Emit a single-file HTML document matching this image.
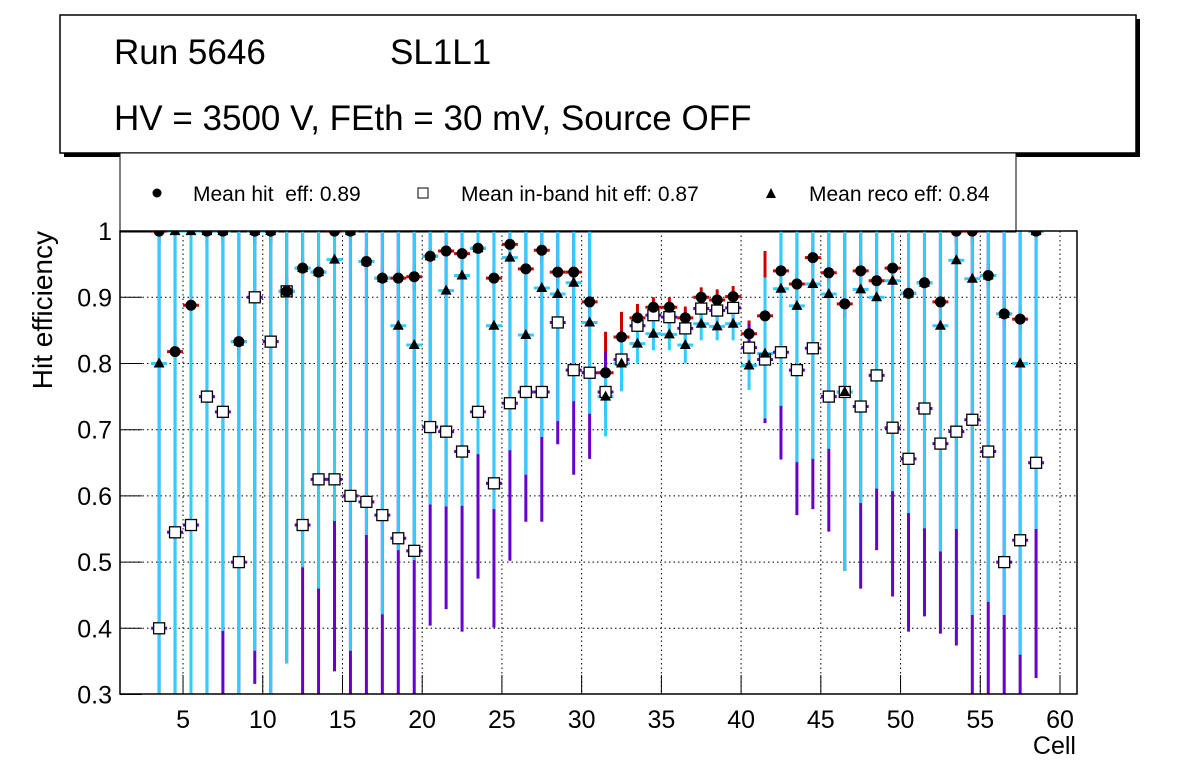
<!DOCTYPE html>
<html><head><meta charset="utf-8"><style>
html,body{margin:0;padding:0;background:#fff;width:1196px;height:772px;overflow:hidden}
svg{font-family:"Liberation Sans",sans-serif}
</style></head><body>
<svg id="chart" width="1196" height="772" viewBox="0 0 1196 772">
<defs><clipPath id="pc"><rect x="120" y="231" width="957" height="463"/></clipPath></defs>
<rect x="64" y="19" width="1076" height="138" fill="#000"/>
<rect x="60" y="15" width="1076" height="138" fill="#fff" stroke="#000" stroke-width="1.5"/>
<text x="114" y="64" font-size="35">Run 5646</text>
<text x="390" y="64" font-size="35">SL1L1</text>
<text x="114" y="130" font-size="35">HV = 3500 V, FEth = 30 mV, Source OFF</text>
<g>
<rect x="120" y="153" width="896" height="79" fill="#fff" stroke="#000" stroke-width="1"/>
<circle cx="157" cy="193" r="4.5" fill="#000"/>
<text x="193" y="201" font-size="21" xml:space="preserve">Mean hit  eff: 0.89</text>
<rect x="418" y="188" width="10" height="10" fill="#fff" stroke="#000"/>
<text x="461" y="201" font-size="21">Mean in-band hit eff: 0.87</text>
<polygon points="771,188 776,198 766,198" fill="#000"/>
<text x="809" y="201" font-size="21">Mean reco eff: 0.84</text>
</g>
<g id="plot"></g>
</svg>
<script>
const cells=[3,4,5,6,7,8,9,10,11,12,13,14,15,16,17,18,19,20,21,22,23,24,25,26,27,28,29,30,31,32,33,34,35,36,37,38,39,40,41,42,43,44,45,46,47,48,49,50,51,52,53,54,55,56,57,58];
const hitEff=[1,0.818,0.888,1,1,0.833,1,1,0.909,0.944,0.938,1,1,0.954,0.929,0.929,0.931,0.962,0.97,0.966,0.974,0.929,0.98,0.943,0.971,0.938,0.938,0.893,0.786,0.84,0.869,0.885,0.885,0.869,0.9,0.896,0.901,0.845,0.872,0.94,0.92,0.96,0.937,0.89,0.94,0.925,0.944,0.906,0.922,0.893,1,1,0.933,0.875,0.867,1];
const hitHi=[1,0.84,0.91,1,1,0.855,1,1,0.93,0.96,0.955,1,1,0.97,0.945,0.945,0.95,0.975,0.985,0.98,0.985,0.945,0.99,0.96,0.985,0.955,0.955,0.915,0.848,0.878,0.89,0.9,0.9,0.886,0.915,0.912,0.917,0.865,0.97,0.955,0.935,0.975,0.952,0.91,0.955,0.94,0.958,0.922,0.938,0.91,1,1,0.95,0.895,0.887,1];
const hitLo=[0.98,0.8,0.87,0.98,0.98,0.81,0.98,0.98,0.89,0.93,0.92,0.98,0.98,0.94,0.91,0.91,0.91,0.95,0.955,0.95,0.96,0.91,0.97,0.925,0.955,0.92,0.92,0.87,0.76,0.82,0.85,0.87,0.87,0.85,0.885,0.88,0.885,0.825,0.85,0.925,0.9,0.945,0.92,0.87,0.925,0.91,0.93,0.89,0.905,0.875,0.98,0.98,0.915,0.855,0.847,0.98];
const inbEff=[0.4,0.545,0.556,0.75,0.727,0.5,0.9,0.833,0.909,0.556,0.625,0.625,0.6,0.591,0.571,0.536,0.517,0.704,0.697,0.667,0.727,0.619,0.74,0.757,0.757,0.862,0.79,0.786,0.757,0.806,0.857,0.873,0.87,0.853,0.883,0.88,0.884,0.824,0.806,0.817,0.79,0.823,0.75,0.757,0.735,0.782,0.703,0.656,0.732,0.679,0.697,0.715,0.667,0.5,0.533,0.65];
const inbHi=[1,1,1,1,1,1,1,1,1,1,1,1,1,1,1,1,1,1,1,1,1,1,1,1,1,1,1,1,0.817,0.84,0.875,0.89,0.888,0.87,0.9,0.897,0.9,0.86,0.86,1,1,1,1,1,1,1,1,1,1,1,1,1,1,1,1,1];
const inbLo=[0.3,0.3,0.3,0.3,0.3,0.3,0.316,0.3,0.347,0.3,0.3,0.335,0.3,0.3,0.3,0.3,0.3,0.404,0.429,0.395,0.475,0.401,0.502,0.561,0.561,0.678,0.632,0.656,0.72,0.78,0.835,0.855,0.852,0.835,0.866,0.862,0.866,0.79,0.71,0.655,0.571,0.58,0.546,0.487,0.46,0.518,0.448,0.395,0.418,0.392,0.374,0.3,0.3,0.3,0.3,0.325];
const recoEff=[0.8,1,1,1,1,0.833,1,1,0.909,0.944,0.938,0.957,1,0.954,0.929,0.857,0.828,0.962,0.91,0.933,0.974,0.857,0.96,0.843,0.914,0.905,0.922,0.862,0.75,0.8,0.83,0.845,0.844,0.828,0.86,0.856,0.86,0.797,0.815,0.913,0.887,0.92,0.905,0.757,0.912,0.9,0.925,0.906,0.922,0.857,0.956,0.928,0.933,0.875,0.8,1];
const recoHi=[1,1,1,1,1,1,1,1,1,1,1,1,1,1,1,1,1,1,1,1,1,1,1,1,1,1,1,1,0.79,0.84,0.86,0.87,0.87,0.85,0.88,0.875,0.88,0.83,0.93,1,1,1,1,1,1,1,1,1,1,1,1,1,1,1,1,1];
const recoLo=[0.3,0.3,0.3,0.3,0.396,0.3,0.366,0.3,0.347,0.492,0.46,0.562,0.366,0.541,0.421,0.518,0.503,0.587,0.584,0.585,0.663,0.58,0.669,0.632,0.689,0.713,0.743,0.724,0.69,0.758,0.8,0.82,0.82,0.8,0.835,0.835,0.835,0.76,0.717,0.736,0.651,0.656,0.671,0.487,0.589,0.611,0.607,0.574,0.551,0.516,0.55,0.42,0.44,0.42,0.36,0.55];
const xTicks=[5,10,15,20,25,30,35,40,45,50,55,60];
const yTicks=[0.3,0.4,0.5,0.6,0.7,0.8,0.9,1];

const L=120,R=1077,T=231,B=694;
const X=v=>103.3+15.945*v;
const Y=v=>297.3-(v-0.9)*662;
const NS="http://www.w3.org/2000/svg";
const g=document.getElementById('plot');
function mk(tag,attrs,parent){const e=document.createElementNS(NS,tag);for(const k in attrs)e.setAttribute(k,attrs[k]);(parent||g).appendChild(e);return e;}
const clampY=v=>Math.max(T,Math.min(B,Y(v)));

const grid=mk('g',{});


xTicks.forEach(t=>{mk('line',{x1:X(t),x2:X(t),y1:T,y2:B,stroke:'#000','stroke-width':1,'stroke-dasharray':'1.5,3'},grid);});
yTicks.forEach(t=>{if(t>0.3&&t<1)mk('line',{x1:L,x2:R,y1:Y(t),y2:Y(t),stroke:'#000','stroke-width':1,'stroke-dasharray':'1.5,3'},grid);});

const ax=mk('g',{});


xTicks.forEach(t=>{
  mk('line',{x1:X(t),x2:X(t),y1:B,y2:B-19,stroke:'#000','stroke-width':1},ax);
  const tx=mk('text',{x:X(t),y:728,'font-size':25,'text-anchor':'middle'},ax);tx.textContent=t;
  
  
});
yTicks.forEach(t=>{
  mk('line',{x1:L,x2:L+22,y1:Y(t),y2:Y(t),stroke:'#000','stroke-width':1},ax);
  const tx=mk('text',{x:112,y:Y(t)+9,'font-size':25,'text-anchor':'end'},ax);tx.textContent=String(t);
  
  
});
const xt=mk('text',{x:1076,y:754,'font-size':25,'text-anchor':'end'},ax);xt.textContent='Cell';


const yt=mk('text',{x:0,y:0,'font-size':28,'text-anchor':'end',transform:'translate(52,231) rotate(-90)'},ax);yt.textContent='Hit efficiency';



const data=mk('g',{'clip-path':'url(#pc)'});


function errs(vals,lo,hi,color,name){
  const s=mk('g',{},data);
  
  
  cells.forEach((c,i)=>{
    const cx=X(c+0.5),y=Y(vals[i]);
    mk('line',{x1:X(c),x2:X(c+1),y1:y,y2:y,stroke:color,'stroke-width':3},s);
    mk('line',{x1:cx,x2:cx,y1:clampY(hi[i]),y2:clampY(lo[i]),stroke:color,'stroke-width':3},s);
  });
}
errs(hitEff,hitLo,hitHi,'#cc0000','hit-error-bars');
errs(inbEff,inbLo,inbHi,'#6600cc','inband-error-bars');
errs(recoEff,recoLo,recoHi,'#33ccff','reco-error-bars');

const mi=mk('g',{},data);


cells.forEach((c,i)=>{mk('rect',{x:X(c+0.5)-5.5,y:Y(inbEff[i])-5.5,width:11,height:11,fill:'#fff',stroke:'#000','stroke-width':1.3},mi);});
const mr=mk('g',{},data);


cells.forEach((c,i)=>{const x=X(c+0.5),y=Y(recoEff[i]);mk('polygon',{points:`${x},${y-6} ${x+5.5},${y+4} ${x-5.5},${y+4}`,fill:'#000'},mr);});
const mh=mk('g',{},data);


cells.forEach((c,i)=>{mk('circle',{cx:X(c+0.5),cy:Y(hitEff[i]),r:5.5,fill:'#000'},mh);});

const fr=mk('rect',{x:L,y:T,width:R-L,height:B-T,fill:'none',stroke:'#000','stroke-width':1.5});


</script>
</body></html>
